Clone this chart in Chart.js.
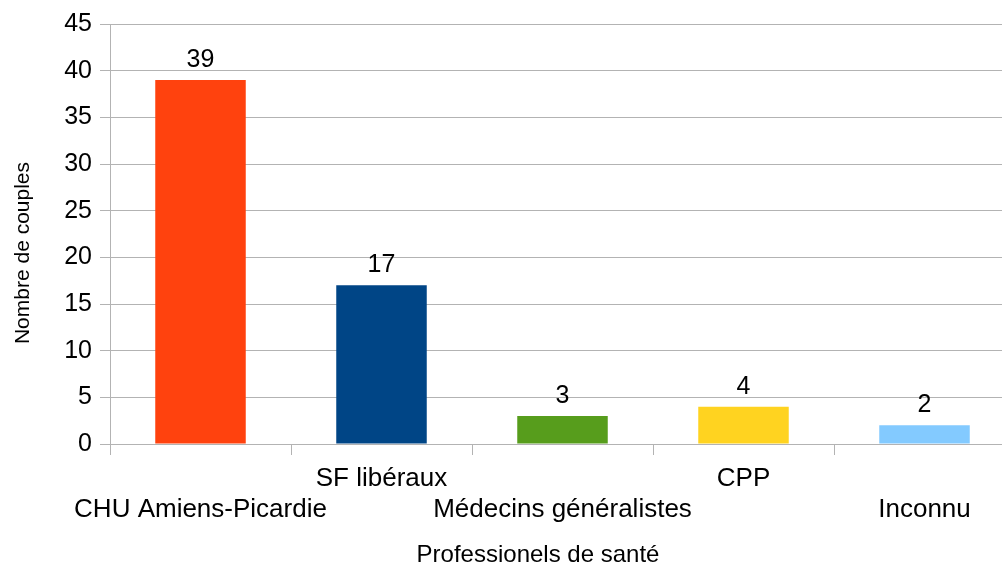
<!DOCTYPE html>
<html>
<head>
<meta charset="utf-8">
<script src="https://cdn.jsdelivr.net/npm/chart.js@4.4.0/dist/chart.umd.min.js"></script>
<style>
html,body{margin:0;padding:0;background:#fff;overflow:hidden;}
#wrap{width:1015px;height:565px;}
</style>
</head>
<body>
<div id="wrap"><canvas id="c" width="1015" height="565"></canvas></div>
<script>
const categories = ['CHU Amiens-Picardie', 'SF libéraux', 'Médecins généralistes', 'CPP', 'Inconnu'];
const values = [39, 17, 3, 4, 2];
const barColors = ['#ff420e', '#004586', '#579d1c', '#ffd320', '#83caff'];
const yTicks = [0, 5, 10, 15, 20, 25, 30, 35, 40, 45];
const xTitle = 'Professionels de santé';
const yTitle = 'Nombre de couples';

const FONT = '"Liberation Sans", Arial, sans-serif';
// staggered labels: even index on second line, odd on first line
const labels = categories.map((c, i) => i % 2 === 0 ? ['', c] : [c, '']);

const valueLabels = {
  id: 'valueLabels',
  afterDatasetsDraw(chart) {
    const ctx = chart.ctx;
    const meta = chart.getDatasetMeta(0);
    ctx.save();
    ctx.font = '25px ' + FONT;
    ctx.fillStyle = '#000';
    ctx.textAlign = 'center';
    ctx.textBaseline = 'alphabetic';
    meta.data.forEach((bar, i) => {
      ctx.fillText(String(values[i]), bar.x, bar.y - 13);
    });
    ctx.restore();
  }
};

const axisTitles = {
  id: 'axisTitles',
  afterDraw(chart) {
    const ctx = chart.ctx;
    ctx.save();
    ctx.fillStyle = '#000';
    ctx.textAlign = 'center';
    ctx.textBaseline = 'middle';
    ctx.font = '24px ' + FONT;
    ctx.fillText(xTitle, 538, 555);
    ctx.font = '21px ' + FONT;
    ctx.translate(23, 253);
    ctx.rotate(-Math.PI / 2);
    ctx.fillText(yTitle, 0, 0);
    ctx.restore();
  }
};

new Chart(document.getElementById('c'), {
  type: 'bar',
  data: {
    labels: labels,
    datasets: [{
      data: values,
      backgroundColor: barColors,
      borderWidth: 0,
      categoryPercentage: 1,
      barPercentage: 0.5
    }]
  },
  options: {
    responsive: false,
    animation: false,
    devicePixelRatio: 1,
    layout: { padding: { top: 24, right: 0, left: 0, bottom: 0 } },
    plugins: { legend: { display: false }, tooltip: { enabled: false } },
    scales: {
      x: {
        offset: true,
        grid: { offset: true, drawOnChartArea: false, drawTicks: true, tickLength: 11, color: '#b3b3b3' },
        border: { color: '#b3b3b3', width: 1 },
        ticks: { color: '#000', font: { family: FONT, size: 26, lineHeight: 1.2 }, padding: 8, maxRotation: 0, autoSkip: false },
        afterFit(s) { s.height = 121; }
      },
      y: {
        min: 0, max: 45,
        afterBuildTicks(s) { s.ticks = yTicks.map(v => ({ value: v })); },
        grid: { color: '#b3b3b3', tickLength: 10, drawTicks: true },
        border: { color: '#b3b3b3', width: 1 },
        ticks: { color: '#000', font: { family: FONT, size: 25 }, padding: 8 },
        afterFit(s) { s.width = 110; }
      }
    }
  },
  plugins: [valueLabels, axisTitles]
});
</script>
</body>
</html>
